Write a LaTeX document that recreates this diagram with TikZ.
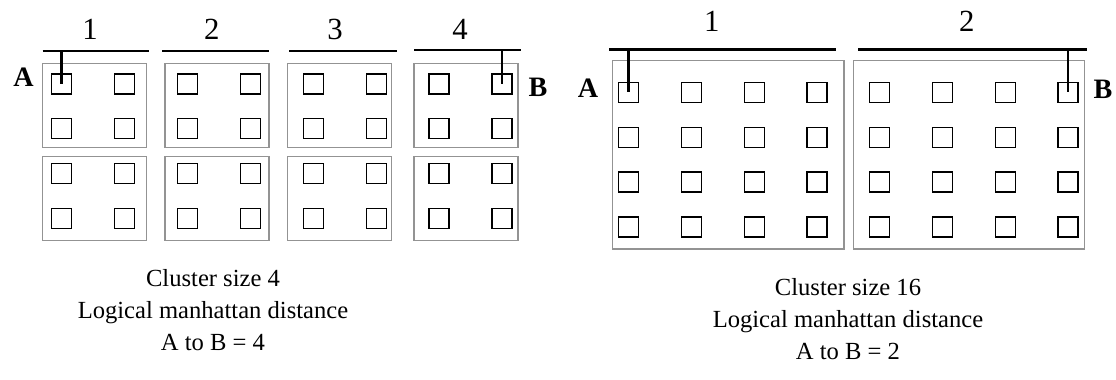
\documentclass[tikz,border=0pt]{standalone}
\usepackage{fontspec}
\setmainfont{Liberation Serif}
\usetikzlibrary{positioning}

\begin{document}
\begin{tikzpicture}[
    x=0.02cm, y=-0.02cm,
    cell/.style={draw, line width=0.7pt, minimum size=0.4cm, inner sep=0pt},
    cluster/.style={draw=gray!85, line width=0.8pt},
    bar/.style={line width=1.7pt},
    link/.style={line width=1.5pt},
    num/.style={font=\fontsize{17.5}{20}\selectfont},
    endpt/.style={font=\fontsize{16}{18}\selectfont\bfseries},
    caption/.style={font=\fontsize{14}{18}\selectfont, align=center}
]
    \useasboundingbox (0,0) rectangle (1116,379);

    % cluster size 4: eight 2x2 clusters
    \foreach \lx in {42.7,165,287.3,414} {
        \draw[cluster] (\lx,63.3) rectangle ++(104,84);
        \draw[cluster] (\lx,156.7) rectangle ++(104,84);
    }
    \foreach \i in {0,...,7}
        \foreach \j in {0,...,3}
            \node[cell] (L-\j-\i) at (61.7+62.9*\i, 84+44.8*\j) {};

    % cluster size 16: two 4x4 clusters
    \draw[cluster] (612.7,60.7) rectangle (844,249);
    \draw[cluster] (853.3,60.7) rectangle (1084.3,249);
    \foreach \i in {0,...,7}
        \foreach \j in {0,...,3}
            \node[cell] (R-\j-\i) at (628.8+62.75*\i, 92.3+44.9*\j) {};

    % logical columns
    \coordinate (l1s) at (42.7,51);  \coordinate (l1e) at (149.3,51);
    \coordinate (l2s) at (162.3,51); \coordinate (l2e) at (269.3,51);
    \coordinate (l3s) at (289.3,51); \coordinate (l3e) at (396.7,51);
    \coordinate (l4s) at (414.3,50); \coordinate (l4e) at (520.7,50);
    \foreach \k in {1,...,4}
        \draw[bar] (l\k s) -- (l\k e);
    \node[num] (ln1) at (90,29) {1};
    \node[num] (ln2) at (211.7,29) {2};
    \node[num] (ln3) at (335,29) {3};
    \node[num] (ln4) at (460,29) {4};

    \coordinate (r1s) at (609.3,49.3); \coordinate (r1e) at (836,49.3);
    \coordinate (r2s) at (858.3,49.3); \coordinate (r2e) at (1087.3,49.3);
    \draw[bar] (r1s) -- (r1e);
    \draw[bar] (r2s) -- (r2e);
    \node[num] (rn1) at (711.7,21) {1};
    \node[num] (rn2) at (966.7,21) {2};

    % end points A and B
    \draw[link] (L-0-0 |- l1s) -- (L-0-0.center);
    \draw[link] (L-0-7 |- l4s) -- (L-0-7.center);
    \node[endpt] (lA) at (23.5,77) {A};
    \node[endpt] (lB) at (538,87) {B};

    \draw[link] (R-0-0 |- r1s) -- (R-0-0.center);
    \draw[link] (R-0-7 |- r2s) -- (R-0-7.center);
    \node[endpt] (rA) at (588,88) {A};
    \node[endpt] (rB) at (1103,89) {B};

    % captions
    \node[caption] (lcap) at (213,310) {Cluster size 4\\Logical manhattan distance\\A to B = 4};
    \node[caption] (rcap) at (848,319) {Cluster size 16\\Logical manhattan distance\\A to B = 2};
\end{tikzpicture}
\end{document}
